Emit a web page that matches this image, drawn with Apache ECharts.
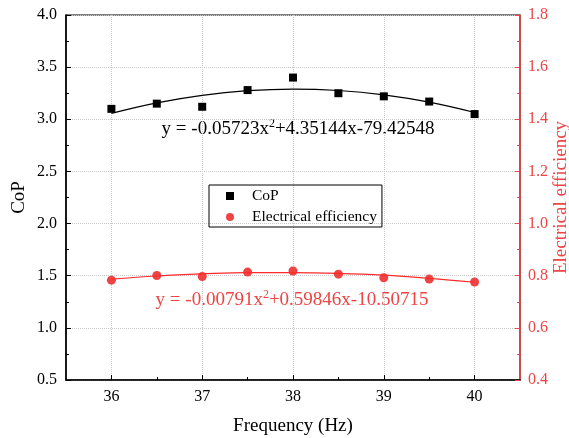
<!DOCTYPE html>
<html><head><meta charset="utf-8">
<script src="https://cdn.jsdelivr.net/npm/echarts@6/dist/echarts.min.js"></script>
<style>html,body{margin:0;padding:0;background:#fff}#c{width:569px;height:438px}</style>
</head><body><div id="c"></div>
<script>
const frequency = [36, 36.5, 37, 37.5, 38, 38.5, 39, 39.5, 40];
const copValues = [3.10, 3.15, 3.12, 3.28, 3.40, 3.25, 3.22, 3.17, 3.05];
const effValues = [0.783, 0.801, 0.797, 0.814, 0.818, 0.806, 0.792, 0.787, 0.776];
const copFit = [3.057, 3.158, 3.230, 3.274, 3.290, 3.276, 3.234, 3.164, 3.065];
const effFit = [0.787, 0.799, 0.807, 0.812, 0.812, 0.809, 0.802, 0.790, 0.775];
const xLabels = [36, 37, 38, 39, 40];
const xMinor = [36.5, 37.5, 38.5, 39.5];

const FONT = 'Liberation Serif';
const RED = '#EE4444';
const pair = (xs, ys) => xs.map((x, i) => [x, ys[i]]);

const chart = echarts.init(document.getElementById('c'));
chart.setOption({
  animation: false,
  grid: { left: 66, right: 49, top: 15, bottom: 58, outerBoundsMode: 'none', containLabel: false,
          show: true, borderColor: '#000', borderWidth: 1.2 },
  legend: {
    left: 209, top: 185, orient: 'vertical',
    borderColor: '#000', borderWidth: 1, padding: [3, 5, 2, 17],
    itemWidth: 8, itemHeight: 8, itemGap: 5,
    textStyle: { fontFamily: FONT, fontSize: 15.5, color: '#000', padding: [0, 0, 0, 13] },
    data: [{ name: 'CoP', icon: 'rect' }, { name: 'Electrical efficiency', icon: 'circle' }]
  },
  xAxis: [{
    type: 'value', min: 35.5, max: 40.5, interval: 0.5,
    name: 'Frequency (Hz)', nameLocation: 'middle', nameGap: 37, nameMoveOverlap: false,
    nameTextStyle: { fontFamily: FONT, fontSize: 19, color: '#000' },
    axisLine: { lineStyle: { color: '#000', width: 1.5 } },
    axisTick: { inside: true, length: 5, customValues: xLabels, lineStyle: { color: '#000' } },
    axisLabel: { customValues: xLabels, fontFamily: FONT, fontSize: 16, color: '#000', margin: 9 },
    splitLine: { show: true, lineStyle: { color: '#c8c8c8', type: 'dotted' } }
  }, {
    type: 'value', min: 35.5, max: 40.5, position: 'bottom',
    axisLine: { show: false },
    axisTick: { inside: true, length: 3, customValues: xMinor, lineStyle: { color: '#000' } },
    axisLabel: { show: false }, splitLine: { show: false }
  }],
  yAxis: [{
    type: 'value', min: 0.5, max: 4.0, interval: 0.5, position: 'left',
    name: 'CoP', nameLocation: 'middle', nameGap: 37, nameMoveOverlap: false,
    nameTextStyle: { fontFamily: FONT, fontSize: 19, color: '#000' },
    axisLine: { show: true, lineStyle: { color: '#000', width: 1.5 } },
    axisTick: { show: true, inside: true, length: 5, lineStyle: { color: '#000' } },
    minorTick: { show: true, splitNumber: 2, length: 3, lineStyle: { color: '#000' } },
    axisLabel: { fontFamily: FONT, fontSize: 16, color: '#000', margin: 9, formatter: v => v.toFixed(1) },
    splitLine: { show: true, lineStyle: { color: '#c8c8c8', type: 'dotted' } }
  }, {
    type: 'value', min: 0.4, max: 1.8, interval: 0.2, position: 'right',
    name: 'Electrical efficiency', nameLocation: 'middle', nameGap: 32, nameMoveOverlap: false,
    nameTextStyle: { fontFamily: FONT, fontSize: 19, color: RED },
    axisLine: { show: true, lineStyle: { color: RED, width: 1.5 } },
    axisTick: { show: true, inside: true, length: 5, lineStyle: { color: RED } },
    minorTick: { show: true, splitNumber: 2, length: 3, lineStyle: { color: RED } },
    axisLabel: { fontFamily: FONT, fontSize: 16, color: RED, margin: 8, formatter: v => v.toFixed(1) },
    splitLine: { show: false }
  }],
  series: [{
    name: 'CoP fit', type: 'line', yAxisIndex: 0, data: pair(frequency, copFit),
    smooth: 0.4, showSymbol: false, lineStyle: { color: '#000', width: 1.2 }, silent: true
  }, {
    name: 'Electrical efficiency fit', type: 'line', yAxisIndex: 1, data: pair(frequency, effFit),
    smooth: 0.4, showSymbol: false, lineStyle: { color: '#FF2A2A', width: 1.2 }, silent: true
  }, {
    name: 'CoP', type: 'scatter', yAxisIndex: 0, data: pair(frequency, copValues),
    symbol: 'rect', symbolSize: 8, itemStyle: { color: '#000', opacity: 1 }
  }, {
    name: 'Electrical efficiency', type: 'scatter', yAxisIndex: 1, data: pair(frequency, effValues),
    symbol: 'circle', symbolSize: 9, itemStyle: { color: RED, opacity: 1 }
  }],
  graphic: [{
    type: 'text', x: 298, y: 129,
    style: {
      text: '{n|y = -0.05723x}{s|2}{n|+4.35144x-79.42548}',
      align: 'center', verticalAlign: 'middle',
      rich: {
        n: { fontFamily: FONT, fontSize: 19, fill: '#000', lineHeight: 22 },
        s: { fontFamily: FONT, fontSize: 12, fill: '#000', lineHeight: 22, padding: [0, 0, 11, 0] }
      }
    }
  }, {
    type: 'text', x: 292, y: 300,
    style: {
      text: '{n|y = -0.00791x}{s|2}{n|+0.59846x-10.50715}',
      align: 'center', verticalAlign: 'middle',
      rich: {
        n: { fontFamily: FONT, fontSize: 19, fill: RED, lineHeight: 22 },
        s: { fontFamily: FONT, fontSize: 12, fill: RED, lineHeight: 22, padding: [0, 0, 11, 0] }
      }
    }
  }]
});
</script></body></html>
